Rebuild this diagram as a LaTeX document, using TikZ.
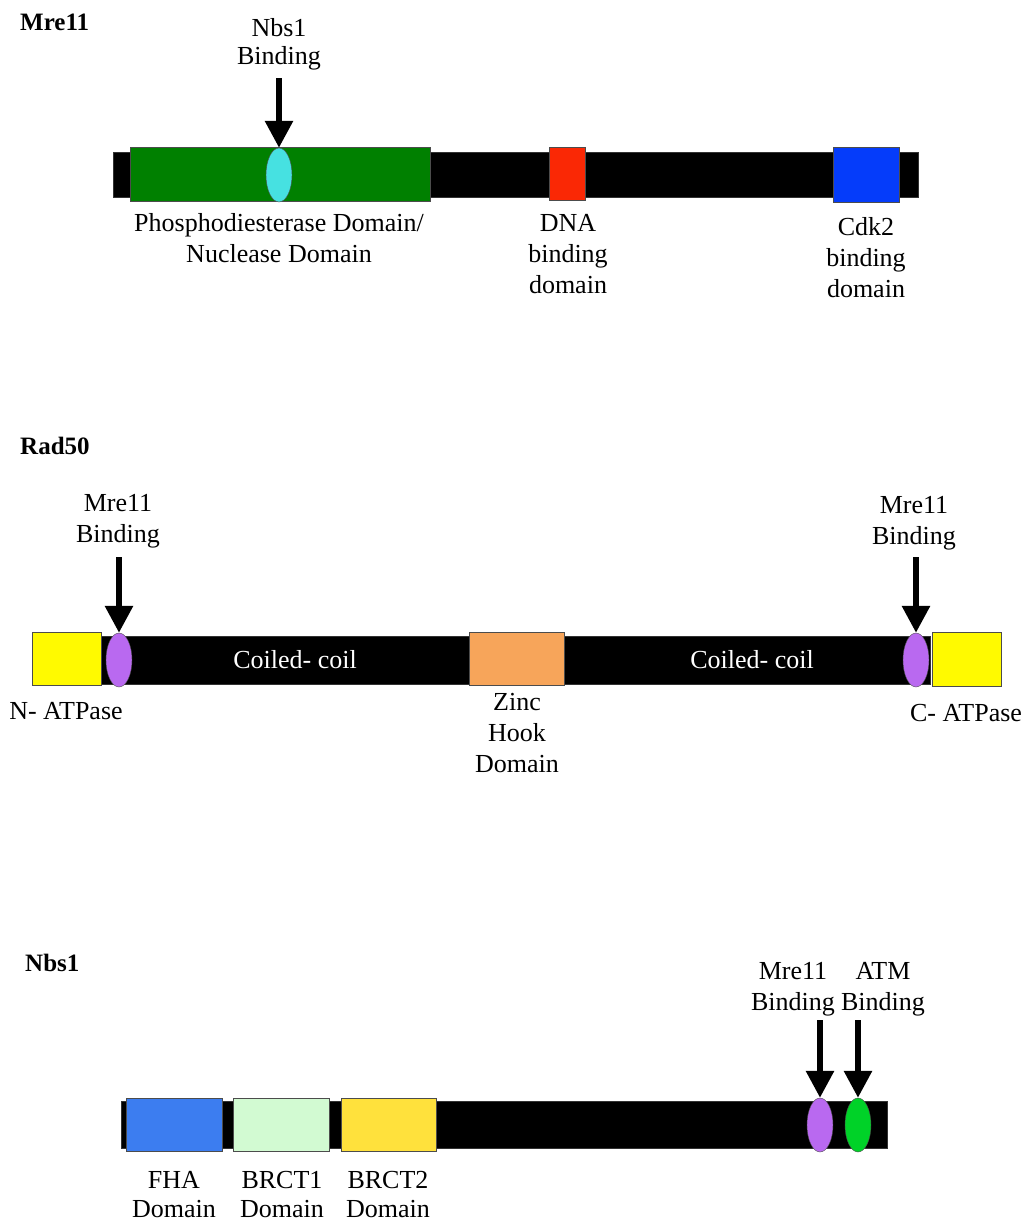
\documentclass[tikz,border=0pt]{standalone}
\usepackage{fontspec}
\setmainfont{Liberation Serif}
\usepackage{tikz}
\usetikzlibrary{shapes.geometric}
\usetikzlibrary{arrows.meta}

\definecolor{pdegreen}{RGB}{0,128,0}
\definecolor{sitecyan}{RGB}{70,225,225}
\definecolor{dnared}{RGB}{250,40,5}
\definecolor{cdkblue}{RGB}{5,60,250}
\definecolor{atpyellow}{RGB}{255,250,0}
\definecolor{sitepurple}{RGB}{185,105,240}
\definecolor{hookorange}{RGB}{247,165,90}
\definecolor{fhablue}{RGB}{60,125,240}
\definecolor{brctgreen}{RGB}{210,250,210}
\definecolor{brctyellow}{RGB}{255,225,60}
\definecolor{atmgreen}{RGB}{0,210,40}

\begin{document}
\begin{tikzpicture}
[x=1pt,y=-1pt,
txt/.style={font=\fontsize{26}{31}\selectfont,align=center,inner sep=0pt},
title/.style={font=\fontsize{25}{30}\selectfont\bfseries,anchor=west,inner sep=0pt},
chain/.style={rectangle,fill=black,draw=black!80,inner sep=0pt},
domn/.style={rectangle,draw=black!70,thin,inner sep=0pt,minimum height=53pt},
site/.style={ellipse,draw=black!70,thin,inner sep=0pt,minimum width=26pt,minimum height=54pt},
bind/.style={-{Triangle[width=27pt,length=27pt]},line width=6pt}]
\useasboundingbox (0,0) rectangle (1028,1224);

% Mre11
\node at (20,22) [title] (mretitle) {Mre11};
\node at (515.5,174.5) [chain,minimum width=805pt,minimum height=45pt] (mrebar) {};
\node at (280,174)  [domn,fill=pdegreen,minimum width=300pt,minimum height=54pt] (pde) {};
\node at (567,173.5)[domn,fill=dnared,minimum width=36pt] (dnab) {};
\node at (866,174.5)[domn,fill=cdkblue,minimum width=66pt,minimum height=55pt] (cdkb) {};
\node at (279,175)  [site,fill=sitecyan] (nbssite) {};
\coordinate (nbsarr) at (279,78);
\draw [bind] (nbsarr) to (nbssite.north);
\node at (279,44)  [txt] {Nbs1\\[-3pt]Binding};
\node at (279,238) [txt] {Phosphodiesterase Domain/\\Nuclease Domain};
\node at (568,254) [txt] {DNA\\binding\\domain};
\node at (866,258) [txt] {Cdk2\\binding\\domain};

% Rad50
\node at (20,446) [title] (radtitle) {Rad50};
\node at (515,660) [chain,minimum width=830pt,minimum height=48pt] (radbar) {};
\node at (66.5,658.5) [domn,fill=atpyellow,minimum width=69pt] (natp) {};
\node at (966.5,659)  [domn,fill=atpyellow,minimum width=69pt,minimum height=54pt] (catp) {};
\node at (516.5,658.5)[domn,fill=hookorange,minimum width=95pt] (hook) {};
\node at (119,660) [site,fill=sitepurple] (radsitel) {};
\node at (916,660) [site,fill=sitepurple] (radsiter) {};
\coordinate (radarrl) at (119,557);
\coordinate (radarrr) at (916,557);
\draw [bind] (radarrl) to (radsitel.north);
\draw [bind] (radarrr) to (radsiter.north);
\node at (118,521) [txt] {Mre11\\Binding};
\node at (914,523) [txt] {Mre11\\Binding};
\node at (295,660) [txt,text=white] {Coiled- coil};
\node at (752,660) [txt,text=white] {Coiled- coil};
\node at (66,711)  [txt] {N- ATPase};
\node at (966,713) [txt] {C- ATPase};
\node at (517,733) [txt] {Zinc\\Hook\\Domain};

% Nbs1
\node at (25,963) [title] (nbstitle) {Nbs1};
\node at (504,1124.5) [chain,minimum width=766pt,minimum height=47pt] (nbsbar) {};
\node at (174,1124.5)   [domn,fill=fhablue,minimum width=96pt] (fha) {};
\node at (281,1124.5)   [domn,fill=brctgreen,minimum width=96pt] (brcta) {};
\node at (388.5,1124.5) [domn,fill=brctyellow,minimum width=95pt] (brctb) {};
\node at (820,1125) [site,fill=sitepurple] (mresite) {};
\node at (858,1125) [site,fill=atmgreen] (atmsite) {};
\coordinate (mrearr) at (820,1020);
\coordinate (atmarr) at (858,1020);
\draw [bind] (mrearr) to (mresite.north);
\draw [bind] (atmarr) to (atmsite.north);
\node at (793,989) [txt] {Mre11\\Binding};
\node at (883,989) [txt] {ATM\\Binding};
\node at (174,1195) [txt] {FHA\\[-2pt]Domain};
\node at (282,1195) [txt] {BRCT1\\[-2pt]Domain};
\node at (388,1195) [txt] {BRCT2\\[-2pt]Domain};
\end{tikzpicture}
\end{document}
